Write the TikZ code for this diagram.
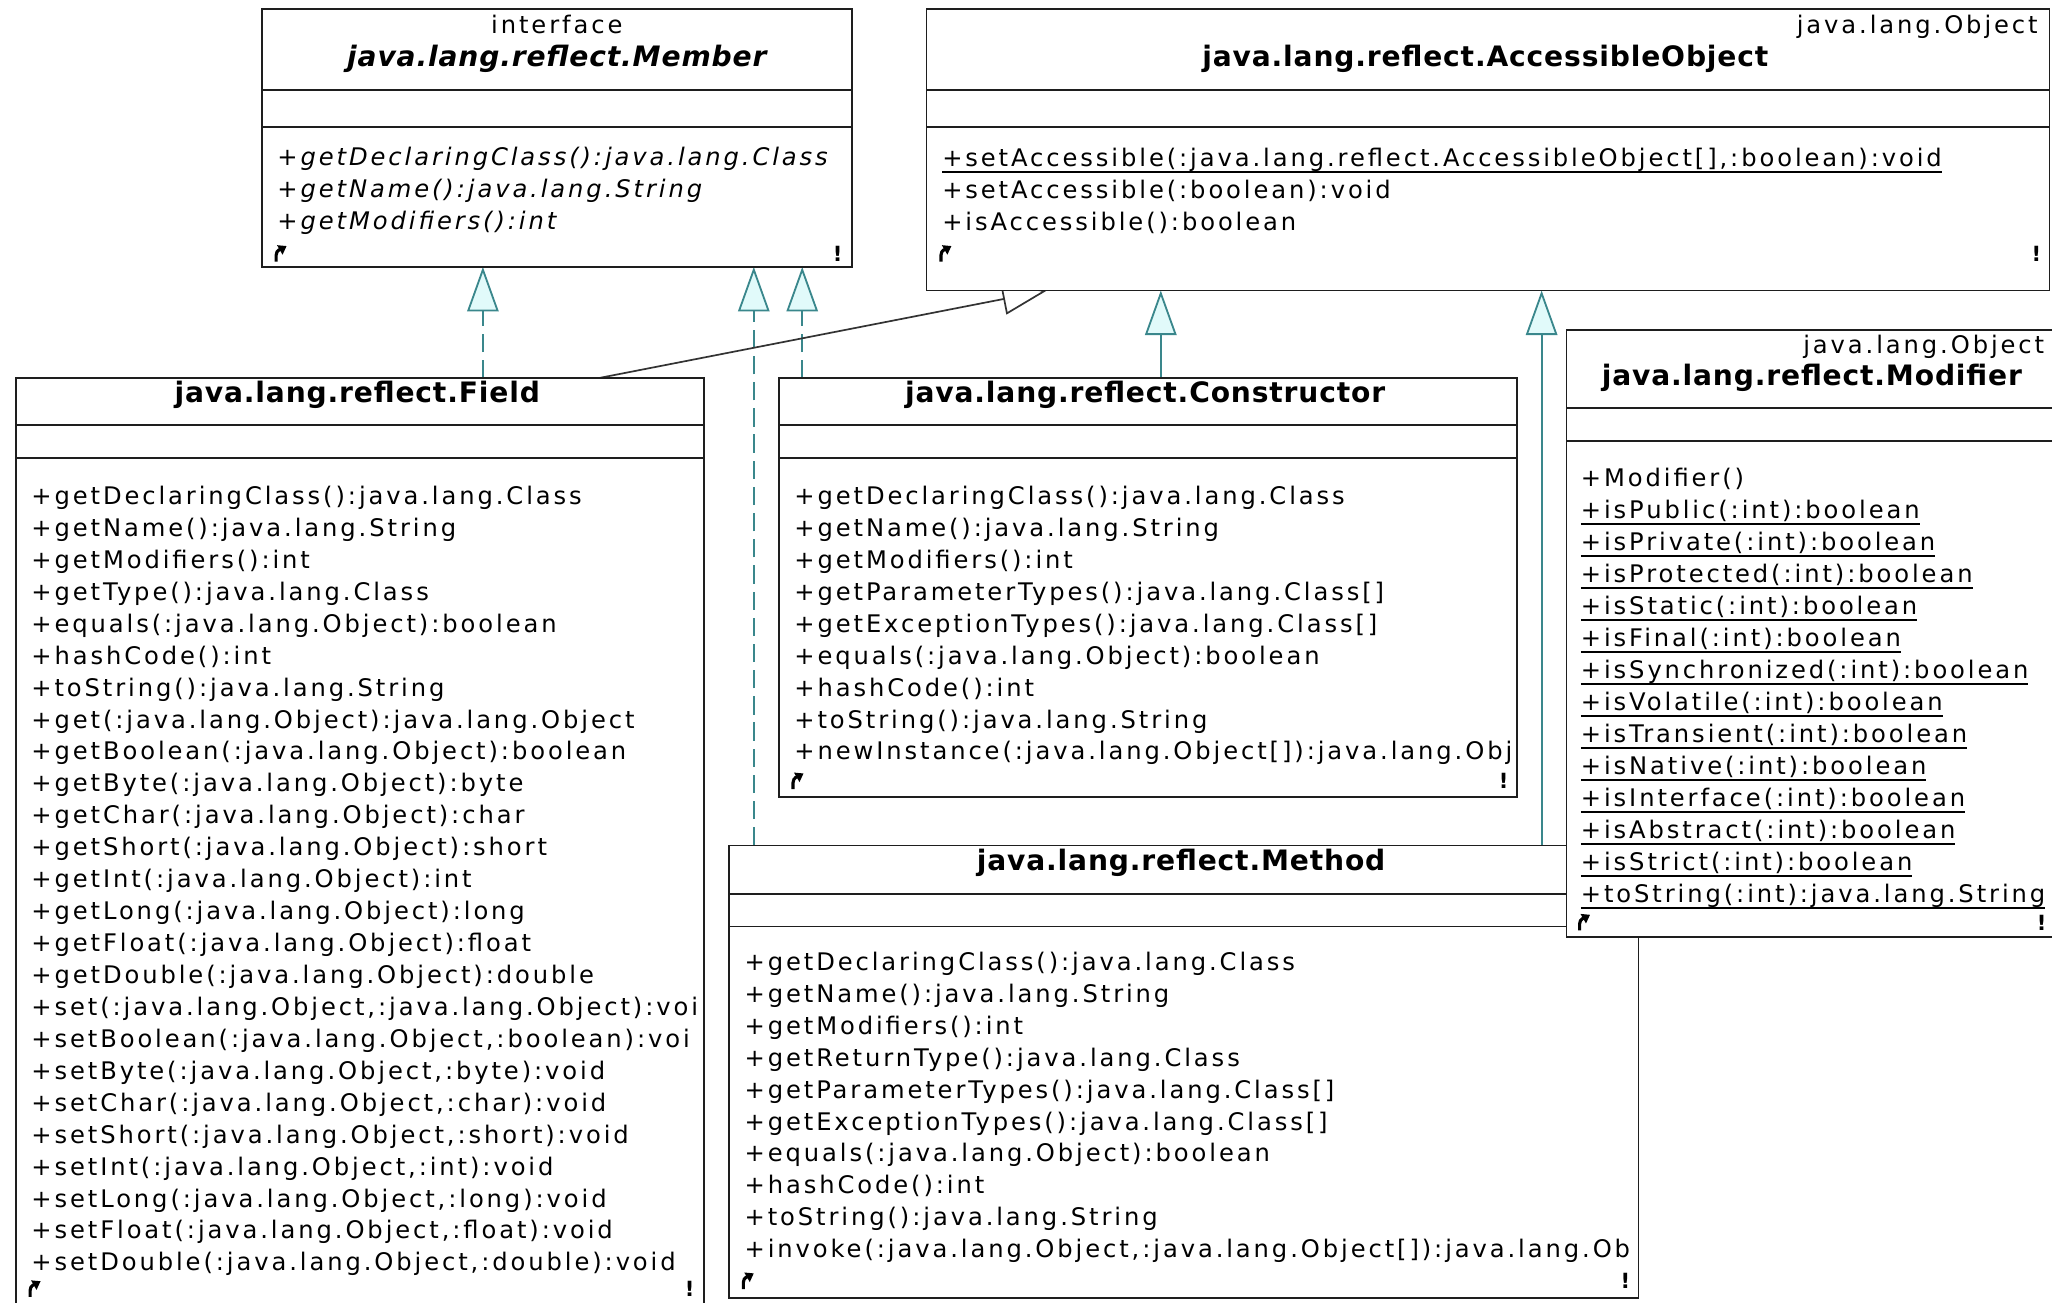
\documentclass[tikz,border=0pt]{standalone}
\usepackage{fontspec}
\usetikzlibrary{arrows.meta}
\newfontfamily\umlfam[LetterSpace=12,BoldFont={DejaVu Sans Bold},ItalicFont={DejaVu Sans Oblique},BoldItalicFont={DejaVu Sans Bold Oblique}]{DejaVu Sans}
\newfontfamily\umltitlefam[LetterSpace=3,BoldFont={DejaVu Sans Bold},ItalicFont={DejaVu Sans Oblique},BoldItalicFont={DejaVu Sans Bold Oblique}]{DejaVu Sans}
\newcommand\mfont{\umlfam\fontsize{18.5}{24.4}\selectfont}
\newcommand\tfont{\umltitlefam\bfseries\fontsize{21.5}{26}\selectfont}
\newsavebox\ulbox
\newcommand\ulx[1]{\sbox\ulbox{#1}\rlap{\rule[-5pt]{\wd\ulbox}{1.3pt}}\usebox\ulbox}
\definecolor{tealline}{RGB}{58,135,140}
\definecolor{tealfill}{RGB}{225,250,250}
\definecolor{boxline}{RGB}{30,30,30}
\pgfdeclarelayer{connectors}
\pgfsetlayers{connectors,main}
\tikzset{
  classbox/.style={rectangle, draw=boxline, line width=1.3pt, fill=white, anchor=north west, inner sep=0pt, outer sep=0pt},
  divider/.style={draw=boxline, line width=1.3pt},
  mtext/.style={anchor=base west, inner sep=0pt, outer sep=0pt, font=\mfont, text=black},
  mital/.style={mtext, font=\mfont\itshape},
  ttext/.style={anchor=base, inner sep=0pt, outer sep=0pt, font=\tfont, text=black},
  stereo/.style={anchor=base, inner sep=0pt, outer sep=0pt, font=\mfont, text=black},
  pkgtext/.style={anchor=base east, inner sep=0pt, outer sep=0pt, font=\mfont, text=black},
  hookarrow/.style={draw=black, line width=2.4pt, -{Triangle[length=6pt,width=8pt]}},
  bang/.style={inner sep=0pt, anchor=center, font=\umlfam\bfseries\fontsize{16}{16}\selectfont},
  realize/.style={draw=tealline, line width=1.4pt, dash pattern=on 14pt off 6pt, -{Triangle[length=34pt,width=24pt,fill=tealfill]}},
  generalize/.style={draw=tealline, line width=1.4pt, -{Triangle[length=34pt,width=24pt,fill=tealfill]}},
  darkgen/.style={draw=black!80, line width=1.3pt, -{Triangle[length=34pt,width=24pt,fill=white]}},
}
\newcommand\corners[4]{%
  \draw[hookarrow] ({#2-1},{-(#4)-6}) -- ({#2-1},{-(#4)-1}) to[out=90,in=210] ({#2+7},{-(#4)+6});
  \node[bang] (#1) at (#3,{-(#4)}) {!};
}
\begin{document}
\begin{tikzpicture}[x=1pt,y=1pt]
\useasboundingbox (0,0) rectangle (1568,-995);
\clip (0,0) rectangle (1568,-995);

% ---------------- Member (interface)
\node[classbox, minimum width=451pt, minimum height=197pt] (member) at (200,-7) {};
\draw[divider] ([yshift=-62pt]member.north west) -- ([yshift=-62pt]member.north east);
\draw[divider] ([yshift=-90pt]member.north west) -- ([yshift=-90pt]member.north east);
\node[stereo] (member-st) at ([yshift=-18.5pt]member.north) {interface};
\node[ttext, font=\tfont\itshape] (member-name) at ([yshift=-44pt]member.north) {java.lang.reflect.Member};
\begin{scope}
\clip (member.north west) rectangle (member.south east);
\foreach \t [count=\i] in {+getDeclaringClass():java.lang.Class, +getName():java.lang.String, +getModifiers():int}
  \node[mital] (mem\i) at (212,{-126.5-(\i-1)*24.5}) {\t};
\end{scope}
\corners{member-bang}{212}{640}{194}

% ---------------- AccessibleObject
\node[classbox, minimum width=858pt, minimum height=215pt] (ao) at (708,-7) {};
\draw[divider] ([yshift=-62pt]ao.north west) -- ([yshift=-62pt]ao.north east);
\draw[divider] ([yshift=-90pt]ao.north west) -- ([yshift=-90pt]ao.north east);
\node[pkgtext] (ao-pkg) at ([xshift=-9pt,yshift=-18.5pt]ao.north east) {java.lang.Object};
\node[ttext] (ao-name) at ([xshift=-2pt,yshift=-44pt]ao.north) {java.lang.reflect.AccessibleObject};
\foreach \t [count=\i] in {{\ulx{+setAccessible(:java.lang.reflect.AccessibleObject[],:boolean):void}}, {+setAccessible(:boolean):void}, {+isAccessible():boolean}}
  \node[mtext] (aom\i) at (720,{-127-(\i-1)*24.4}) {\t};
\corners{ao-bang}{720}{1556}{194}

% ---------------- Field
\node[classbox, minimum width=526pt, minimum height=711pt] (field) at (12,-289) {};
\draw[divider] ([yshift=-36pt]field.north west) -- ([yshift=-36pt]field.north east);
\draw[divider] ([yshift=-61pt]field.north west) -- ([yshift=-61pt]field.north east);
\node[ttext] (field-name) at ([xshift=-2pt,yshift=-18.5pt]field.north) {java.lang.reflect.Field};
\begin{scope}
\clip (field.north west) rectangle (field.south east);
\foreach \t [count=\i] in {
  {+getDeclaringClass():java.lang.Class},
  {+getName():java.lang.String},
  {+getModifiers():int},
  {+getType():java.lang.Class},
  {+equals(:java.lang.Object):boolean},
  {+hashCode():int},
  {+toString():java.lang.String},
  {+get(:java.lang.Object):java.lang.Object},
  {+getBoolean(:java.lang.Object):boolean},
  {+getByte(:java.lang.Object):byte},
  {+getChar(:java.lang.Object):char},
  {+getShort(:java.lang.Object):short},
  {+getInt(:java.lang.Object):int},
  {+getLong(:java.lang.Object):long},
  {+getFloat(:java.lang.Object):float},
  {+getDouble(:java.lang.Object):double},
  {+set(:java.lang.Object,:java.lang.Object):voi},
  {+setBoolean(:java.lang.Object,:boolean):voi},
  {+setByte(:java.lang.Object,:byte):void},
  {+setChar(:java.lang.Object,:char):void},
  {+setShort(:java.lang.Object,:short):void},
  {+setInt(:java.lang.Object,:int):void},
  {+setLong(:java.lang.Object,:long):void},
  {+setFloat(:java.lang.Object,:float):void},
  {+setDouble(:java.lang.Object,:double):void}}
  \node[mtext] (fld\i) at (24,{-385.5-(\i-1)*24.4}) {\t};
\end{scope}
\corners{field-bang}{24}{527}{985}

% ---------------- Constructor
\node[classbox, minimum width=564pt, minimum height=320pt] (ctor) at (595,-289) {};
\draw[divider] ([yshift=-36pt]ctor.north west) -- ([yshift=-36pt]ctor.north east);
\draw[divider] ([yshift=-61pt]ctor.north west) -- ([yshift=-61pt]ctor.north east);
\node[ttext] (ctor-name) at ([xshift=-2pt,yshift=-18.5pt]ctor.north) {java.lang.reflect.Constructor};
\begin{scope}
\clip (ctor.north west) rectangle (ctor.south east);
\foreach \t [count=\i] in {
  {+getDeclaringClass():java.lang.Class},
  {+getName():java.lang.String},
  {+getModifiers():int},
  {+getParameterTypes():java.lang.Class[]},
  {+getExceptionTypes():java.lang.Class[]},
  {+equals(:java.lang.Object):boolean},
  {+hashCode():int},
  {+toString():java.lang.String},
  {+newInstance(:java.lang.Object[]):java.lang.Obj}}
  \node[mtext] (ctr\i) at (607,{-385.5-(\i-1)*24.4}) {\t};
\end{scope}
\corners{ctor-bang}{607}{1149}{597}

% ---------------- Method
\node[classbox, minimum width=695pt, minimum height=346pt] (method) at (557,-646) {};
\draw[divider] ([yshift=-37pt]method.north west) -- ([yshift=-37pt]method.north east);
\draw[divider] ([yshift=-62pt]method.north west) -- ([yshift=-62pt]method.north east);
\node[ttext] (method-name) at ([xshift=-2pt,yshift=-19pt]method.north) {java.lang.reflect.Method};
\begin{scope}
\clip (method.north west) rectangle (method.south east);
\foreach \t [count=\i] in {
  {+getDeclaringClass():java.lang.Class},
  {+getName():java.lang.String},
  {+getModifiers():int},
  {+getReturnType():java.lang.Class},
  {+getParameterTypes():java.lang.Class[]},
  {+getExceptionTypes():java.lang.Class[]},
  {+equals(:java.lang.Object):boolean},
  {+hashCode():int},
  {+toString():java.lang.String},
  {+invoke(:java.lang.Object,:java.lang.Object[]):java.lang.Ob}}
  \node[mtext] (mth\i) at (569,{-741.5-(\i-1)*24.4}) {\t};
\end{scope}
\corners{method-bang}{569}{1242}{979}

% ---------------- Modifier
\node[classbox, minimum width=375pt, minimum height=464pt] (modifier) at (1197,-252) {};
\draw[divider] ([yshift=-60pt]modifier.north west) -- ([yshift=-60pt]modifier.north east);
\draw[divider] ([yshift=-85pt]modifier.north west) -- ([yshift=-85pt]modifier.north east);
\node[pkgtext] (mod-pkg) at ([xshift=-10pt,yshift=-18.5pt]modifier.north east) {java.lang.Object};
\node[ttext] (mod-name) at ([yshift=-42.5pt]modifier.north) {java.lang.reflect.Modifier};
\begin{scope}
\clip (modifier.north west) rectangle (modifier.south east);
\foreach \t [count=\i] in {
  {+Modifier()},
  {\ulx{+isPublic(:int):boolean}},
  {\ulx{+isPrivate(:int):boolean}},
  {\ulx{+isProtected(:int):boolean}},
  {\ulx{+isStatic(:int):boolean}},
  {\ulx{+isFinal(:int):boolean}},
  {\ulx{+isSynchronized(:int):boolean}},
  {\ulx{+isVolatile(:int):boolean}},
  {\ulx{+isTransient(:int):boolean}},
  {\ulx{+isNative(:int):boolean}},
  {\ulx{+isInterface(:int):boolean}},
  {\ulx{+isAbstract(:int):boolean}},
  {\ulx{+isStrict(:int):boolean}},
  {\ulx{+toString(:int):java.lang.String}}}
  \node[mtext] (mod\i) at (1208,{-371.5-(\i-1)*24.46}) {\t};
\end{scope}
\corners{mod-bang}{1208}{1560}{705}

% ---------------- connectors (behind the boxes)
\begin{pgfonlayer}{connectors}
\draw[realize] ([xshift=357pt]field.north west) -- ([xshift=169pt]member.south west);
\draw[realize] ([xshift=19pt]method.north west) -- ([xshift=376pt]member.south west);
\draw[realize] ([xshift=18pt]ctor.north west) -- ([xshift=413pt]member.south west);
\draw[darkgen] ([xshift=445pt]field.north west) -- ([xshift=92pt]ao.south west);
\draw[generalize] ([xshift=292pt]ctor.north west) -- ([xshift=179pt]ao.south west);
\draw[generalize] ([xshift=621pt]method.north west) -- ([xshift=470pt]ao.south west);
\end{pgfonlayer}
\end{tikzpicture}
\end{document}
